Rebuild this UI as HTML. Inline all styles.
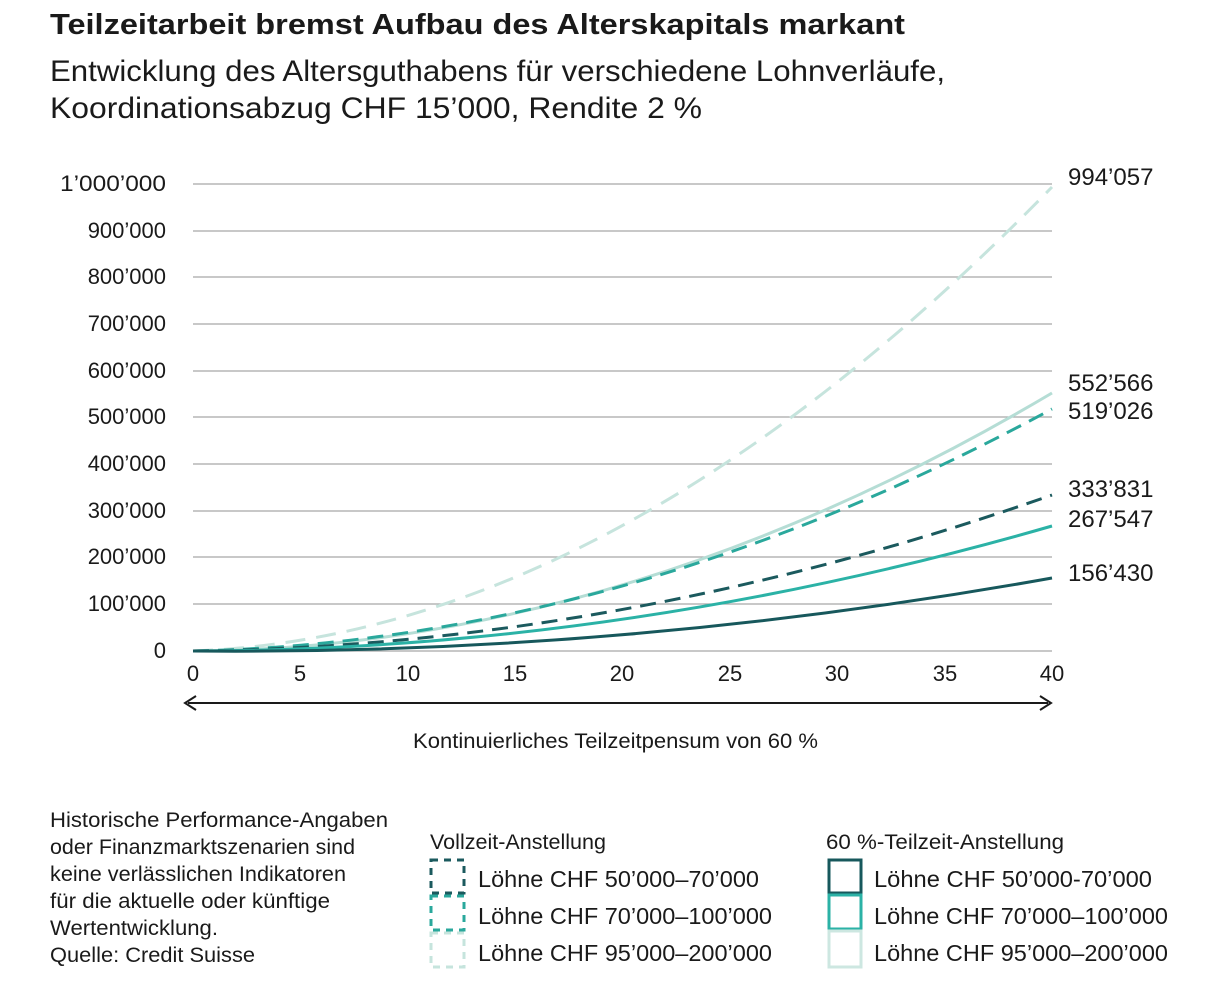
<!DOCTYPE html>
<html><head><meta charset="utf-8"><style>
body{margin:0;background:#fff;font-family:"Liberation Sans",sans-serif;}
</style></head><body>
<svg width="1225" height="1001" xmlns="http://www.w3.org/2000/svg" font-family="Liberation Sans, sans-serif" fill="#1a1a1a">
<text x="50" y="34" font-size="29" font-weight="bold" textLength="855" lengthAdjust="spacingAndGlyphs">Teilzeitarbeit bremst Aufbau des Alterskapitals markant</text>
<text x="50" y="81" font-size="30" textLength="895" lengthAdjust="spacingAndGlyphs">Entwicklung des Altersguthabens für verschiedene Lohnverläufe,</text>
<text x="50" y="118" font-size="30" textLength="652" lengthAdjust="spacingAndGlyphs">Koordinationsabzug CHF 15’000, Rendite 2 %</text>
<g stroke="#a8a8a8" stroke-width="1.3">
<line x1="193" x2="1052" y1="184" y2="184"/><line x1="193" x2="1052" y1="231" y2="231"/>
<line x1="193" x2="1052" y1="277" y2="277"/><line x1="193" x2="1052" y1="324" y2="324"/>
<line x1="193" x2="1052" y1="371" y2="371"/><line x1="193" x2="1052" y1="417" y2="417"/>
<line x1="193" x2="1052" y1="464" y2="464"/><line x1="193" x2="1052" y1="511" y2="511"/>
<line x1="193" x2="1052" y1="557" y2="557"/><line x1="193" x2="1052" y1="604" y2="604"/>
<line x1="193" x2="1052" y1="651" y2="651"/>
</g>
<g font-size="22" text-anchor="end">
<text x="166" y="191" textLength="106" lengthAdjust="spacingAndGlyphs">1’000’000</text><text x="166" y="238">900’000</text><text x="166" y="284">800’000</text>
<text x="166" y="331">700’000</text><text x="166" y="378">600’000</text><text x="166" y="424">500’000</text>
<text x="166" y="471">400’000</text><text x="166" y="518">300’000</text><text x="166" y="564">200’000</text>
<text x="166" y="611">100’000</text><text x="166" y="658">0</text>
</g>
<g font-size="22" text-anchor="middle">
<text x="193" y="681">0</text><text x="300" y="681">5</text><text x="408" y="681">10</text><text x="515" y="681">15</text>
<text x="622" y="681">20</text><text x="730" y="681">25</text><text x="837" y="681">30</text><text x="945" y="681">35</text><text x="1052" y="681">40</text>
</g>
<g fill="none" stroke-width="3">
<path d="M193,651 Q615,636 1052,187" stroke="#c6e4dd" stroke-dasharray="20,11"/>
<path d="M193,651 Q622,648 1052,393" stroke="#b5ddd5"/>
<path d="M193,651 Q622,642 1052,409" stroke="#2aa89c" stroke-dasharray="16,9"/>
<path d="M193,651 Q622,646 1052,495" stroke="#1b5a5e" stroke-dasharray="16,9"/>
<path d="M193,651 Q622,650 1052,526" stroke="#2bb2a6"/>
<path d="M193,651 Q622,655 1052,578" stroke="#17585c"/>
</g>
<g font-size="24">
<text x="1068" y="185">994’057</text><text x="1068" y="391">552’566</text><text x="1068" y="419">519’026</text>
<text x="1068" y="497">333’831</text><text x="1068" y="527">267’547</text><text x="1068" y="581">156’430</text>
</g>
<line x1="188" x2="1048" y1="703" y2="703" stroke="#1a1a1a" stroke-width="2"/>
<path d="M196,696 L185,703 L196,710" fill="none" stroke="#1a1a1a" stroke-width="2"/>
<path d="M1040,696 L1051,703 L1040,710" fill="none" stroke="#1a1a1a" stroke-width="2"/>
<text x="413" y="748" font-size="21" textLength="405" lengthAdjust="spacingAndGlyphs">Kontinuierliches Teilzeitpensum von 60 %</text>
<g font-size="21">
<text x="50" y="827" textLength="338" lengthAdjust="spacingAndGlyphs">Historische Performance-Angaben</text>
<text x="50" y="854" textLength="305" lengthAdjust="spacingAndGlyphs">oder Finanzmarktszenarien sind</text>
<text x="50" y="881" textLength="296" lengthAdjust="spacingAndGlyphs">keine verlässlichen Indikatoren</text>
<text x="50" y="908" textLength="280" lengthAdjust="spacingAndGlyphs">für die aktuelle oder künftige</text>
<text x="50" y="935" textLength="168" lengthAdjust="spacingAndGlyphs">Wertentwicklung.</text>
<text x="50" y="962" textLength="205" lengthAdjust="spacingAndGlyphs">Quelle: Credit Suisse</text>
</g>
<text x="430" y="849" font-size="21" textLength="176" lengthAdjust="spacingAndGlyphs">Vollzeit-Anstellung</text>
<text x="826" y="849" font-size="21" textLength="238" lengthAdjust="spacingAndGlyphs">60 %-Teilzeit-Anstellung</text>
<g fill="none" stroke-width="3" stroke-dasharray="7,6">
<rect x="431" y="860" width="33" height="33" stroke="#1b5a5e"/>
<rect x="431" y="896" width="33" height="34" stroke="#2aa89c"/>
<rect x="431" y="933" width="33" height="34" stroke="#c6e4dd"/>
</g>
<g fill="none" stroke-width="3">
<rect x="829" y="860" width="32" height="33" stroke="#17585c"/>
<rect x="829" y="895" width="32" height="34" stroke="#2bb2a6"/>
<rect x="829" y="931" width="32" height="36" stroke="#cde7e1"/>
</g>
<g font-size="23">
<text x="478" y="887" textLength="281" lengthAdjust="spacingAndGlyphs">Löhne CHF 50’000–70’000</text>
<text x="478" y="924" textLength="294" lengthAdjust="spacingAndGlyphs">Löhne CHF 70’000–100’000</text>
<text x="478" y="961" textLength="294" lengthAdjust="spacingAndGlyphs">Löhne CHF 95’000–200’000</text>
<text x="874" y="887" textLength="278" lengthAdjust="spacingAndGlyphs">Löhne CHF 50’000-70’000</text>
<text x="874" y="924" textLength="294" lengthAdjust="spacingAndGlyphs">Löhne CHF 70’000–100’000</text>
<text x="874" y="961" textLength="294" lengthAdjust="spacingAndGlyphs">Löhne CHF 95’000–200’000</text>
</g>
</svg>
</body></html>
